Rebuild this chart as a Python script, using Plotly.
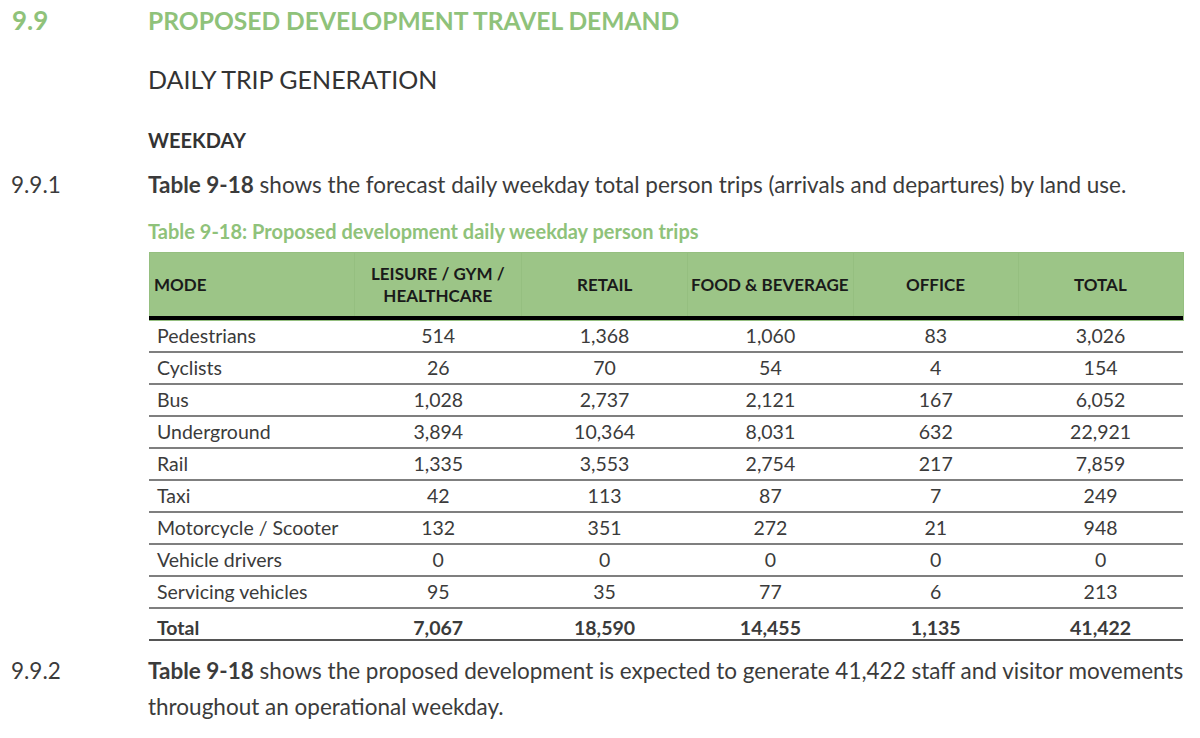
import plotly.graph_objects as go

# table data (Table 9-18)
modes = ["Pedestrians", "Cyclists", "Bus", "Underground", "Rail", "Taxi",
         "Motorcycle / Scooter", "Vehicle drivers", "Servicing vehicles", "Total"]
leisure = [514, 26, 1028, 3894, 1335, 42, 132, 0, 95, 7067]
retail = [1368, 70, 2737, 10364, 3553, 113, 351, 0, 35, 18590]
food = [1060, 54, 2121, 8031, 2754, 87, 272, 0, 77, 14455]
office = [83, 4, 167, 632, 217, 7, 21, 0, 6, 1135]
total = [3026, 154, 6052, 22921, 7859, 249, 948, 0, 213, 41422]
headers = ["MODE", "LEISURE / GYM /<br>HEALTHCARE", "RETAIL", "FOOD & BEVERAGE", "OFFICE", "TOTAL"]
col_widths = [206, 167, 166, 166, 165, 165]

W, H = 1200, 738
FONT = "Lato"
GREEN = "#8fc27a"
HEAD_FILL = "#9cc587"
TEXT = "#3b3b3b"

# table geometry in pixels
tab_left, tab_right, tab_top = 149, 1183, 252
head_h, row_h = 68, 32


def px(x):
    return x / W


def py(y):
    return 1 - y / H


def fmt(col, is_text=False):
    out = []
    for i, v in enumerate(col):
        s = v if is_text else f"{v:,}"
        if i == len(col) - 1:
            s = f"<b>{s}</b>"
        out.append(s)
    return out


columns = [fmt(modes, True), fmt(leisure), fmt(retail), fmt(food), fmt(office), fmt(total)]
n_rows = len(modes)
tab_bottom = tab_top + head_h + n_rows * row_h

table = go.Table(
    domain=dict(x=[px(tab_left), px(tab_right)], y=[py(tab_bottom), py(tab_top)]),
    columnwidth=col_widths,
    header=dict(values=[""] * len(headers),
                fill_color=HEAD_FILL, line=dict(color="#95bf80", width=1),
                height=head_h),
    cells=dict(values=columns, fill_color="white", line=dict(color="white", width=0),
               align=["left"] + ["center"] * 5, height=row_h,
               font=dict(family=FONT, size=19.5, color=TEXT)),
)

fig = go.Figure(data=[table])

# horizontal rules of the table
shapes = []
y_head = tab_top + head_h
shapes.append(dict(type="line", xref="paper", yref="paper", x0=px(tab_left), x1=px(tab_right),
                   y0=py(y_head - 2), y1=py(y_head - 2),
                   line=dict(color="black", width=4), layer="above"))
for i in range(1, n_rows + 1):
    yp = y_head + i * row_h
    shapes.append(dict(type="line", xref="paper", yref="paper", x0=px(tab_left), x1=px(tab_right),
                       y0=py(yp), y1=py(yp),
                       line=dict(color="#555555", width=2 if i == n_rows else 1.5), layer="above"))


def txt(x, y, s, size, color=TEXT, anchor="left"):
    return dict(x=px(x), y=py(y), xref="paper", yref="paper", text=s, showarrow=False,
                xanchor=anchor, yanchor="middle", font=dict(family=FONT, size=size, color=color))


annotations = [
    txt(10, 20, "<b>9.9</b>", 26, GREEN),
    txt(146, 20, "<b>PROPOSED DEVELOPMENT TRAVEL DEMAND</b>", 24.6, GREEN),
    txt(146, 79, "DAILY TRIP GENERATION", 25, "#333333"),
    txt(146, 140, "<b>WEEKDAY</b>", 20, "#333333"),
    txt(9, 184, "9.9.1", 22.5),
    txt(146, 184, "<b>Table 9-18</b> shows the forecast daily weekday total person trips "
                  "(arrivals and departures) by land use.", 22.5),
    txt(146, 231, "<b>Table 9-18: Proposed development daily weekday person trips</b>", 20, GREEN),
    txt(9, 670, "9.9.2", 22.5),
    txt(146, 670, "<b>Table 9-18</b> shows the proposed development is expected to generate "
                  "41,422 staff and visitor movements", 22.5),
    txt(146, 706, "throughout an operational weekday.", 22.5),
]

# header labels, placed by the column widths
scale = (tab_right - tab_left) / sum(col_widths)
x_edge = tab_left
for h, cw in zip(headers, col_widths):
    if h == "MODE":
        annotations.append(txt(x_edge + 3, tab_top + 32, f"<b>{h}</b>", 17, "#1a1a1a"))
    else:
        annotations.append(txt(x_edge + cw * scale / 2, tab_top + 32, f"<b>{h}</b>", 17,
                               "#1a1a1a", anchor="center"))
    x_edge += cw * scale

fig.update_layout(width=W, height=H, margin=dict(l=0, r=0, t=0, b=0),
                  paper_bgcolor="white", plot_bgcolor="white",
                  shapes=shapes, annotations=annotations, showlegend=False)

# drop the default page margin so the figure sits at the window corner
fig.write_html("out.html", config={"displayModeBar": False},
               post_script="document.body.style.margin='0';")
